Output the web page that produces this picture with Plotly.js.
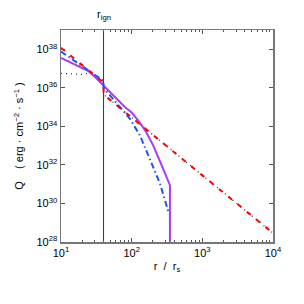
<!DOCTYPE html>
<html>
<head>
<meta charset="utf-8">
<script src="https://cdn.plot.ly/plotly-3.0.1.min.js"></script>
<style>html,body{margin:0;padding:0;background:#fff;}#plot{width:304px;height:304px;}</style>
</head>
<body>
<div id="plot"></div>
<script>
// r / r_s values and Q values (erg cm^-2 s^-1)
var rRed = [10, 40, 40, 100, 1000, 10000];
var qRed = [1.2e38, 1.86e36, 4.5e35, 2.9e34, 2.9e31, 2.9e28];

var rBlue = [10, 16.8, 25, 36.8, 40, 40, 46.7, 64.6, 94.6, 131, 172, 251, 330];
var qBlue = [7.6e37, 2.0e37, 7.9e36, 2.8e36, 2.3e36, 1.0e36, 5.2e35, 1.2e35, 2.45e34, 3.4e33, 3.2e32, 1.1e31, 3.8e29];

var rPurple = [10, 15.8, 24.1, 31.6, 40, 49.3, 56.2, 68.2, 79.4, 100, 126, 158, 200, 250, 348, 348];
var qPurple = [3.55e37, 1.58e37, 7.6e36, 3.16e36, 1.32e36, 5.75e35, 3.6e35, 1.9e35, 1.05e35, 5.2e34, 1.9e34, 5.5e33, 1.1e33, 1.6e32, 8.9e30, 1e27];

var rDot = [10, 15, 20, 27, 40, 40, 100, 1000, 10000];
var qDot = [5.6e36, 5.2e36, 5.0e36, 6.2e36, 1.86e36, 4.5e35, 2.9e34, 2.9e31, 2.9e28];

var rIgn = [40, 40];
var qIgnLine = [1e27, 1e40];

var xTickVals = [10, 100, 1000, 10000];
var xTickText = ['10<sup>1</sup>', '10<sup>2</sup>', '10<sup>3</sup>', '10<sup>4</sup>'];
var yTickVals = [1e28, 1e30, 1e32, 1e34, 1e36, 1e38];
var yTickText = ['10<sup>28</sup>', '10<sup>30</sup>', '10<sup>32</sup>', '10<sup>34</sup>', '10<sup>36</sup>', '10<sup>38</sup>'];

var traces = [
  {x: rIgn, y: qIgnLine, mode: 'lines', line: {color: '#333333', width: 1}, hoverinfo: 'skip'},
  {x: rDot, y: qDot, mode: 'lines', line: {color: '#333333', width: 1.3, dash: '1px,4px'}},
  {x: rPurple, y: qPurple, mode: 'lines', line: {color: '#a83cf5', width: 2}},
  {x: rBlue, y: qBlue, mode: 'lines', line: {color: '#1f4fff', width: 2, dash: '6px,3px,1.5px,3px'}},
  {x: rRed, y: qRed, mode: 'lines', line: {color: '#ff0000', width: 2, dash: '5px,7px'}}
];

var axisCommon = {
  type: 'log',
  showline: true, linecolor: '#777777', linewidth: 1.5, mirror: 'ticks',
  ticks: 'inside', ticklen: 4, tickcolor: '#555555', tickwidth: 1,
  showgrid: false, zeroline: false,
  tickfont: {family: 'Liberation Sans, Arial, sans-serif', size: 11, color: '#000'}
};

var layout = {
  width: 304, height: 304,
  margin: {l: 61, r: 31, t: 30, b: 62},
  paper_bgcolor: '#ffffff', plot_bgcolor: '#ffffff',
  showlegend: false,
  font: {family: 'Liberation Sans, Arial, sans-serif', size: 11, color: '#000'},
  xaxis: Object.assign({}, axisCommon, {
    range: [1, 4],
    tickmode: 'array', tickvals: xTickVals, ticktext: xTickText,
    minor: {ticks: 'inside', ticklen: 2, tickcolor: '#555555', dtick: 'D1', showgrid: false},
    title: {text: 'r  /  r<sub>s</sub>', font: {size: 11}, standoff: 4}
  }),
  yaxis: Object.assign({}, axisCommon, {
    range: [28, 39],
    tickmode: 'array', tickvals: yTickVals, ticktext: yTickText,
    title: {text: 'Q    ( erg · cm<sup>−2</sup> · s<sup>−1</sup> )', font: {size: 11}, standoff: 10}
  }),
  annotations: [{
    x: Math.log10(40), y: 1.0, xref: 'x', yref: 'paper',
    yanchor: 'bottom', yshift: 6, showarrow: false,
    text: 'r<sub>ign</sub>', font: {size: 11}
  }]
};

Plotly.newPlot('plot', traces, layout, {staticPlot: true, displayModeBar: false});
</script>
</body>
</html>
